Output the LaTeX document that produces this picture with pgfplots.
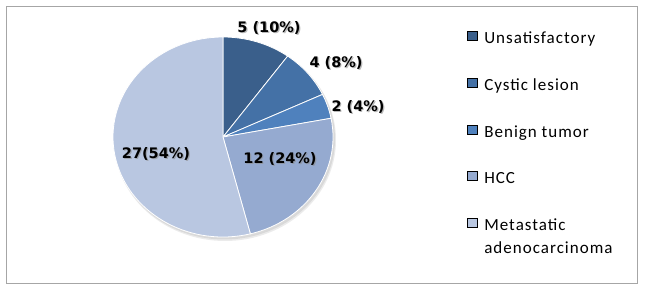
\documentclass[border=0pt]{standalone}
\usepackage{pgfplots}
\pgfplotsset{compat=1.18}
\usepackage{pgfplotstable}
\usepackage{fontspec}
\setmainfont{Carlito}
\newfontfamily\legfont[LetterSpace=6]{Carlito}
\newfontfamily\labfont{DejaVu Sans}
\definecolor{c0}{HTML}{3A5F8B}
\definecolor{c1}{HTML}{4471A6}
\definecolor{c2}{HTML}{4F81BD}
\definecolor{c3}{HTML}{95AAD0}
\definecolor{c4}{HTML}{B9C7E1}
\definecolor{framegray}{HTML}{A6A6A6}

\pgfplotstableread{
name value
Unsatisfactory 5
Cystic 4
Benign 2
HCC 12
Metastatic 27
}\piedata

\begin{document}
\begin{tikzpicture}
% cumulative angles (clockwise from 12 o'clock)
\gdef\total{0}
\pgfplotsforeachungrouped \i in {0,...,4}{%
  \pgfplotstablegetelem{\i}{value}\of\piedata
  \pgfmathsetmacro\tmp{\total+\pgfplotsretval}%
  \xdef\total{\tmp}%
}
\gdef\cum{0}
\pgfplotsforeachungrouped \i in {0,...,4}{%
  \pgfplotstablegetelem{\i}{value}\of\piedata
  \pgfmathsetmacro\angA{90-\cum/\total*360}%
  \pgfmathsetmacro\tmp{\cum+\pgfplotsretval}%
  \xdef\cum{\tmp}%
  \pgfmathsetmacro\angB{90-\cum/\total*360}%
  \expandafter\xdef\csname pa\i\endcsname{\angA}%
  \expandafter\xdef\csname pb\i\endcsname{\angB}%
}
\tikzset{lab/.style={font=\labfont\bfseries\fontsize{14.5bp}{17bp}\selectfont, inner sep=0pt},
  labsh/.style={lab, text=black!45, opacity=0.6, xshift=1.2bp, yshift=-1.2bp}}
\begin{axis}[
  width=645bp, height=292bp, scale only axis,
  xmin=0, xmax=645, ymin=0, ymax=292,
  hide axis, clip=false,
  legend image code/.code={\fill[#1] (0bp,-0.5bp) rectangle (10bp,8.5bp);},
  legend style={
    at={(axis cs:466.7,261)}, anchor=north west,
    draw=none, fill=none, font=\legfont\fontsize{17bp}{23bp}\selectfont,
    inner sep=0pt, row sep=30bp,
    nodes={inner sep=0pt, text height=12bp, text depth=4bp},
    /tikz/every odd column/.append style={column sep=7bp},
  },
  legend cell align=left,
]
\path (axis cs:0,0) rectangle (axis cs:645,292);
\draw[framegray, line width=1bp] (axis cs:6.5,8) rectangle (axis cs:637.5,285);

% soft shadow of the pie
\fill[black, opacity=0.08] (axis cs:225,152) ellipse[x radius=111bp, y radius=101bp];
\fill[black, opacity=0.08] (axis cs:224.5,153) ellipse[x radius=110.5bp, y radius=100.5bp];

\pgfplotsinvokeforeach{0,...,4}{%
  \fill[c#1, draw=white, line width=0.8bp] (axis cs:223,155) -- ++(\csname pa#1\endcsname:110bp and 100bp)
    arc[start angle=\csname pa#1\endcsname, end angle=\csname pb#1\endcsname, x radius=110bp, y radius=100bp] -- cycle;
}

\node[labsh] at (axis cs:269,264) {5 (10\%)};
\node[lab]   at (axis cs:269,264) {5 (10\%)};
\node[labsh] at (axis cs:336,229) {4 (8\%)};
\node[lab]   at (axis cs:336,229) {4 (8\%)};
\node[labsh] at (axis cs:358,185) {2 (4\%)};
\node[lab]   at (axis cs:358,185) {2 (4\%)};
\node[labsh] at (axis cs:280,133) {12 (24\%)};
\node[lab]   at (axis cs:280,133) {12 (24\%)};
\node[labsh] at (axis cs:156,138) {27(54\%)};
\node[lab]   at (axis cs:156,138) {27(54\%)};

\addlegendimage{fill=c0}
\addlegendentry{Unsatisfactory}
\addlegendimage{fill=c1}
\addlegendentry{Cystic lesion}
\addlegendimage{fill=c2}
\addlegendentry{Benign tumor}
\addlegendimage{fill=c3}
\addlegendentry{HCC}
\addlegendimage{fill=c4}
\addlegendentry{\parbox[t]{5cm}{Metastatic\\adenocarcinoma}}
\end{axis}
\end{tikzpicture}
\end{document}
